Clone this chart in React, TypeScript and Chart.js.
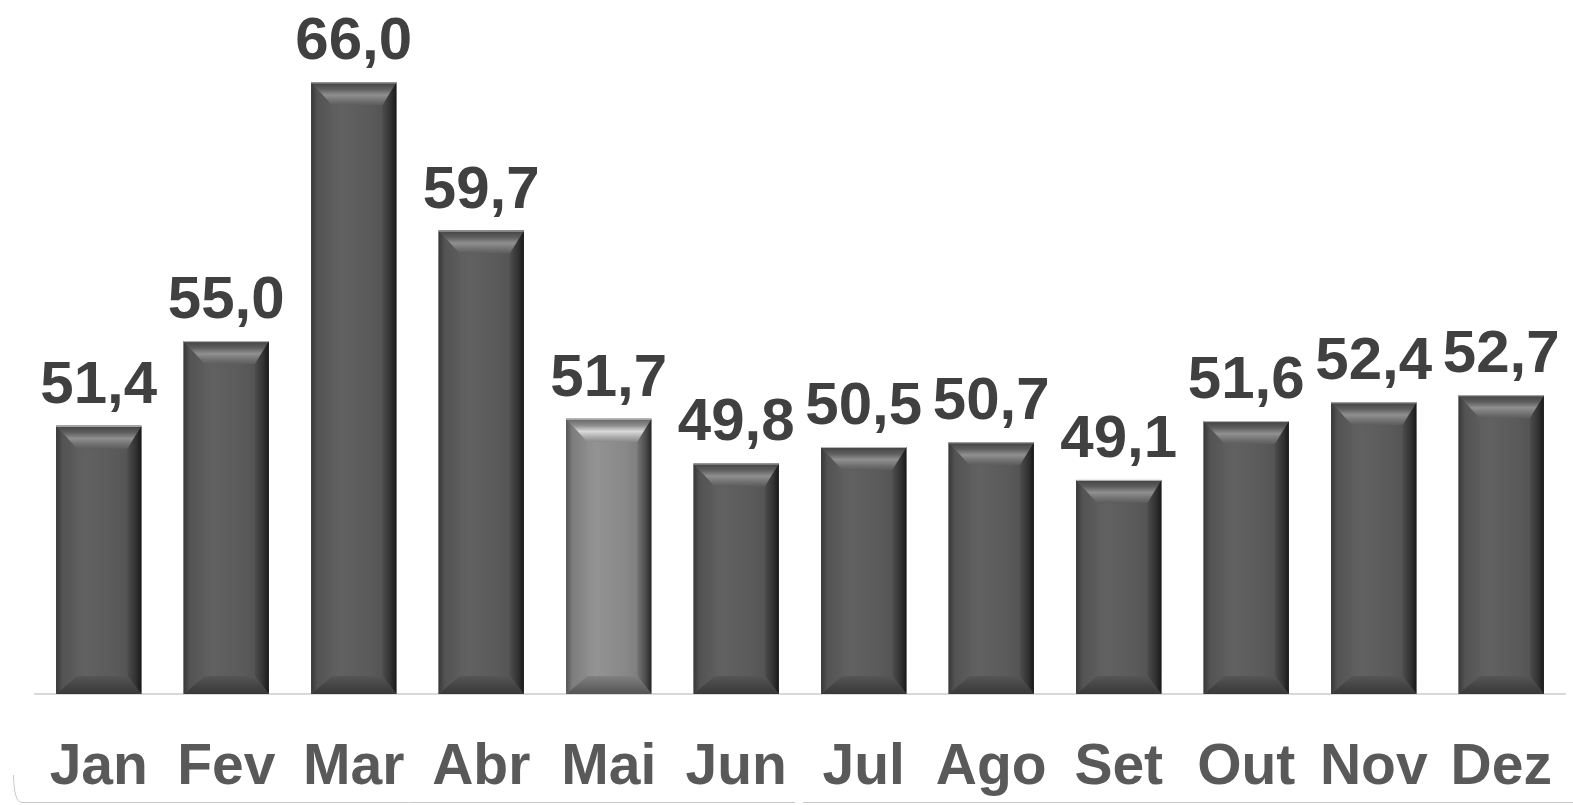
import React, { useEffect, useRef } from "react";
import { Chart, registerables } from "chart.js";

Chart.register(...registerables);

const months = ["Jan", "Fev", "Mar", "Abr", "Mai", "Jun", "Jul", "Ago", "Set", "Out", "Nov", "Dez"];
const values = [51.4, 55.0, 66.0, 59.7, 51.7, 49.8, 50.5, 50.7, 49.1, 51.6, 52.4, 52.7];
const highlightIndex = 4;
const yMin = 40;
const yMax = 69.5;

const FONT = '"Liberation Sans", Arial, sans-serif';

function gray(v: number, f: number) {
  const c = Math.max(0, Math.min(255, Math.round(v * f)));
  return `rgb(${c},${c},${c})`;
}

const bevelPlugin = {
  id: "bevel",
  afterDatasetsDraw(chart: any) {
    const ctx = chart.ctx as CanvasRenderingContext2D;
    const meta = chart.getDatasetMeta(0);
    meta.data.forEach((bar: any, i: number) => {
      const { x, y, base, width } = bar.getProps(["x", "y", "base", "width"], true);
      const x0 = x - width / 2;
      const x1 = x + width / 2;
      const y0 = y;
      const y1 = Math.min(base, chart.chartArea.bottom);
      const v = i === highlightIndex ? 136 : 90;
      const dt = 23, db = 18, dl = 21, dr = 14;
      ctx.save();
      // face
      const fg = ctx.createLinearGradient(x0, 0, x1, 0);
      fg.addColorStop(0, gray(v, 0.95));
      fg.addColorStop(0.35, gray(v, 1.08));
      fg.addColorStop(0.7, gray(v, 1.0));
      fg.addColorStop(1, gray(v, 0.85));
      ctx.fillStyle = fg;
      ctx.fillRect(x0, y0, width, y1 - y0);
      // left
      const lg = ctx.createLinearGradient(x0, 0, x0 + dl, 0);
      lg.addColorStop(0, gray(v, 0.62));
      lg.addColorStop(0.3, gray(v, 0.92));
      lg.addColorStop(1, gray(v, 1.02));
      ctx.fillStyle = lg;
      ctx.beginPath();
      ctx.moveTo(x0, y0);
      ctx.lineTo(x0 + dl, y0 + dt);
      ctx.lineTo(x0 + dl, y1 - db);
      ctx.lineTo(x0, y1);
      ctx.closePath();
      ctx.fill();
      // right
      const rg = ctx.createLinearGradient(x1 - dr, 0, x1, 0);
      rg.addColorStop(0, gray(v, 0.85));
      rg.addColorStop(0.6, gray(v, 0.55));
      rg.addColorStop(1, gray(v, 0.28));
      ctx.fillStyle = rg;
      ctx.beginPath();
      ctx.moveTo(x1, y0);
      ctx.lineTo(x1 - dr, y0 + dt);
      ctx.lineTo(x1 - dr, y1 - db);
      ctx.lineTo(x1, y1);
      ctx.closePath();
      ctx.fill();
      // top
      const tg = ctx.createLinearGradient(0, y0, 0, y0 + dt);
      tg.addColorStop(0, gray(v, 0.72));
      tg.addColorStop(0.3, gray(v, 1.05));
      tg.addColorStop(0.55, gray(v, 1.6));
      tg.addColorStop(0.8, gray(v, 1.25));
      tg.addColorStop(1, gray(v, 1.02));
      ctx.fillStyle = tg;
      ctx.beginPath();
      ctx.moveTo(x0, y0);
      ctx.lineTo(x1, y0);
      ctx.lineTo(x1 - dr, y0 + dt);
      ctx.lineTo(x0 + dl, y0 + dt);
      ctx.closePath();
      ctx.fill();
      // bottom
      const bg = ctx.createLinearGradient(0, y1 - db, 0, y1);
      bg.addColorStop(0, gray(v, 0.95));
      bg.addColorStop(0.5, gray(v, 0.78));
      bg.addColorStop(1, gray(v, 0.62));
      ctx.fillStyle = bg;
      ctx.beginPath();
      ctx.moveTo(x0, y1);
      ctx.lineTo(x1, y1);
      ctx.lineTo(x1 - dr, y1 - db);
      ctx.lineTo(x0 + dl, y1 - db);
      ctx.closePath();
      ctx.fill();
      // thin light outline at top
      ctx.strokeStyle = "rgba(200,200,200,0.9)";
      ctx.lineWidth = 1;
      ctx.beginPath();
      ctx.moveTo(x0, y0 + 0.5);
      ctx.lineTo(x1, y0 + 0.5);
      ctx.stroke();
      ctx.restore();
    });
  },
};

const labelPlugin = {
  id: "valueLabels",
  afterDatasetsDraw(chart: any) {
    const ctx = chart.ctx as CanvasRenderingContext2D;
    const meta = chart.getDatasetMeta(0);
    const data = chart.data.datasets[0].data as number[];
    ctx.save();
    ctx.font = `bold 60px ${FONT}`;
    ctx.fillStyle = "#404040";
    ctx.textAlign = "center";
    ctx.textBaseline = "alphabetic";
    meta.data.forEach((bar: any, i: number) => {
      const txt = data[i].toFixed(1).replace(".", ",");
      ctx.fillText(txt, bar.x, bar.y - 23);
    });
    ctx.restore();
  },
};

const framePlugin = {
  id: "frameLine",
  afterDraw(chart: any) {
    const ctx = chart.ctx as CanvasRenderingContext2D;
    ctx.save();
    ctx.strokeStyle = "#c8c8c8";
    ctx.lineWidth = 1;
    ctx.beginPath();
    ctx.moveTo(13.5, 775);
    ctx.quadraticCurveTo(14, 802.5, 22, 802.5);
    ctx.lineTo(795, 802.5);
    ctx.moveTo(803, 802.5);
    ctx.lineTo(1573, 802.5);
    ctx.stroke();
    ctx.restore();
  },
};

export default function App() {
  const ref = useRef<HTMLCanvasElement | null>(null);
  useEffect(() => {
    if (!ref.current) return;
    const chart = new Chart(ref.current, {
      type: "bar",
      data: {
        labels: months,
        datasets: [
          {
            data: values,
            base: yMin,
            backgroundColor: values.map((_, i) => (i === highlightIndex ? "#888888" : "#5a5a5a")),
            borderWidth: 0,
            barPercentage: 0.668,
            categoryPercentage: 1,
          } as any,
        ],
      },
      options: {
        responsive: false,
        animation: false,
        layout: { padding: { left: 35, right: 8, top: 0, bottom: 0 } },
        plugins: { legend: { display: false }, tooltip: { enabled: false } },
        scales: {
          x: {
            grid: { display: true, color: "rgba(0,0,0,0)", drawTicks: true, tickLength: 40 },
            border: { display: true, color: "#d9d9d9", width: 2 },
            ticks: {
              color: "#595959",
              font: { family: FONT, size: 57, weight: "bold" },
              padding: 0,
              maxRotation: 0,
              autoSkip: false,
            },
            afterFit: (scale: any) => {
              scale.height = 111;
            },
          },
          y: {
            display: false,
            min: yMin,
            max: yMax,
          },
        },
      },
      plugins: [bevelPlugin, labelPlugin, framePlugin],
    });
    return () => chart.destroy();
  }, []);
  return (
    <div style={{ position: "absolute", left: 0, top: 0, width: 1573, height: 805, background: "#fff" }}>
      <canvas ref={ref} width={1573} height={805} style={{ display: "block" }} />
    </div>
  );
}
